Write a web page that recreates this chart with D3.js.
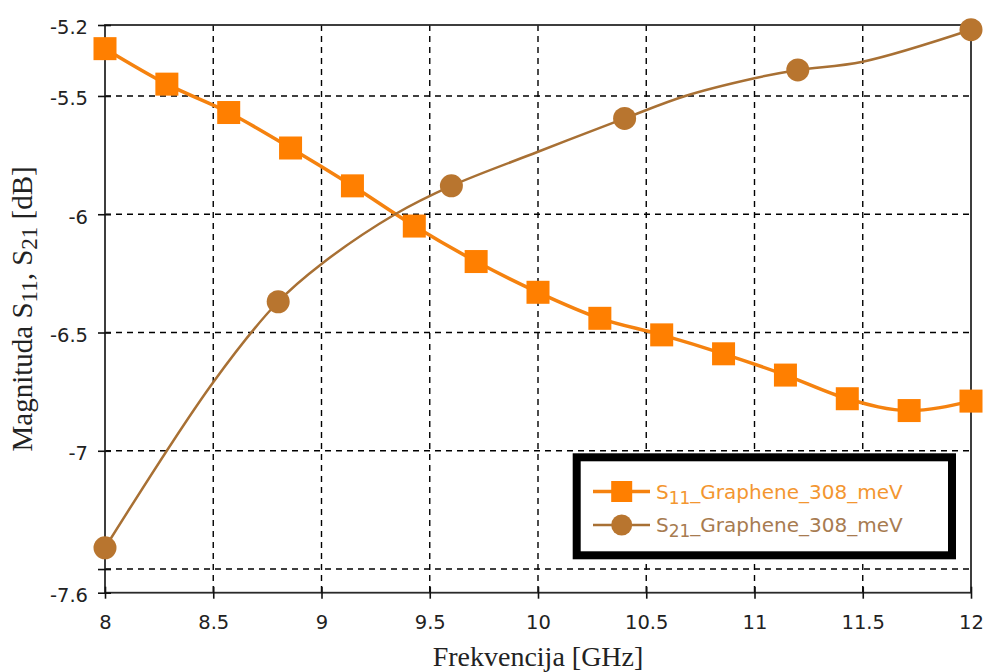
<!DOCTYPE html>
<html>
<head>
<meta charset="utf-8">
<script src="https://cdn.jsdelivr.net/npm/d3@7"></script>
<style>
  html, body { margin: 0; padding: 0; background: #fff; }
  svg { display: block; }
</style>
</head>
<body>
<svg id="chart" width="987" height="672"></svg>
<script>
// ---- data ----
const s11Freq = [8.0, 8.2857, 8.5714, 8.8571, 9.1429, 9.4286, 9.7143, 10.0, 10.2857, 10.5714, 10.8571, 11.1429, 11.4286, 11.7143, 12.0];
const s11Val  = [-5.30, -5.45, -5.57, -5.72, -5.88, -6.05, -6.20, -6.33, -6.44, -6.51, -6.59, -6.68, -6.78, -6.83, -6.79];

const s21Freq = [8.0, 8.8, 9.6, 10.4, 11.2, 12.0];
const s21Val  = [-7.41, -6.37, -5.88, -5.595, -5.39, -5.22];

// S21 simulated curve (denser trace)
const s21CurveFreq = [8.0, 8.5, 8.8, 9.0, 9.34, 9.6, 10.0, 10.4, 10.68, 11.0, 11.2, 11.5, 12.0];
const s21CurveVal  = [-7.41, -6.71, -6.37, -6.21, -6.0, -5.88, -5.736, -5.595, -5.5, -5.425, -5.39, -5.355, -5.22];

const xTicks = [8, 8.5, 9, 9.5, 10, 10.5, 11, 11.5, 12];
const xTickLabels = ["8", "8.5", "9", "9.5", "10", "10.5", "11", "11.5", "12"];
const yTicks = [-5.2, -5.5, -6, -6.5, -7, -7.5, -7.6];
const yTickLabels = ["-5.2", "-5.5", "-6", "-6.5", "-7", "", "-7.6"];
const xGrid = [8.5, 9, 9.5, 10, 10.5, 11, 11.5];
const yGrid = [-5.5, -6, -6.5, -7, -7.5];

const seriesNames = ["11", "21"]; // subscripts for S11 / S21 legend labels
const seriesSuffix = "_Graphene_308_meV";

// ---- layout ----
const svg = d3.select("#chart");
const pL = 105, pR = 971, pT = 25, pB = 592.7;

const x = d3.scaleLinear().domain([8, 12]).range([pL, pR]);
const y = d3.scaleLinear().domain([-7.6, -5.2]).range([pB, pT]);

const c11 = "#FF7F00", c11line = "#F5820F";
const c21 = "#B8752F", c21line = "#A87034";

// gridlines
const grid = svg.append("g").attr("stroke", "#000").attr("stroke-width", 1.4)
  .attr("stroke-dasharray", "6,5");
grid.selectAll("line.v").data(xGrid).join("line").attr("class", "v")
  .attr("x1", d => x(d)).attr("x2", d => x(d))
  .attr("y1", pT).attr("y2", pB);
grid.selectAll("line.h").data(yGrid).join("line").attr("class", "h")
  .attr("x1", pL).attr("x2", pR)
  .attr("y1", d => y(d)).attr("y2", d => y(d));

// frame
svg.append("rect").attr("x", pL).attr("y", pT)
  .attr("width", pR - pL).attr("height", pB - pT)
  .attr("fill", "none").attr("stroke", "#2a2a2a").attr("stroke-width", 1.8);

// axes
const xAxis = d3.axisBottom(x).tickValues(xTicks)
  .tickFormat((d, i) => xTickLabels[i]).tickSize(6).tickPadding(16);
const gx = svg.append("g").attr("transform", `translate(0,${pB})`).call(xAxis);
gx.select(".domain").remove();
gx.selectAll(".tick line").attr("y1", -6).attr("y2", 6).attr("stroke", "#111").attr("stroke-width", 1.6);
gx.selectAll(".tick text").attr("font-family", "DejaVu Sans, sans-serif")
  .attr("font-size", 19.5).attr("fill", "#222").attr("dy", "0.71em");

const yAxis = d3.axisLeft(y).tickValues(yTicks)
  .tickFormat((d, i) => yTickLabels[i]).tickSize(7).tickPadding(10);
const gy = svg.append("g").attr("transform", `translate(${pL},0)`).call(yAxis);
gy.select(".domain").remove();
gy.selectAll(".tick line").attr("x1", 6).attr("x2", -7).attr("stroke", "#111").attr("stroke-width", 1.6);
gy.selectAll(".tick text").attr("font-family", "DejaVu Sans, sans-serif")
  .attr("font-size", 19.5).attr("fill", "#222").attr("dy", "0.45em");

// axis titles
svg.append("text").attr("x", (pL + pR) / 2).attr("y", 666)
  .attr("text-anchor", "middle").attr("font-family", "Liberation Serif, Times New Roman, serif")
  .attr("font-size", 28).attr("fill", "#222").text("Frekvencija [GHz]");

const yt = svg.append("text").attr("transform", `translate(32,${(pT + pB) / 2}) rotate(-90)`)
  .attr("text-anchor", "middle").attr("font-family", "Liberation Serif, Times New Roman, serif")
  .attr("font-size", 29).attr("fill", "#222");
yt.append("tspan").text("Magnituda S");
yt.append("tspan").attr("font-size", 23).attr("dy", 5).text(seriesNames[0]);
yt.append("tspan").attr("dy", -5).text(", S");
yt.append("tspan").attr("font-size", 23).attr("dy", 5).text(seriesNames[1]);
yt.append("tspan").attr("dy", -5).text(" [dB]");

// lines
const line11 = d3.line().x((d, i) => x(s11Freq[i])).y(d => y(d)).curve(d3.curveMonotoneX);
svg.append("path").attr("d", line11(s11Val)).attr("fill", "none")
  .attr("stroke", c11line).attr("stroke-width", 3.5);

const line21 = d3.line().x((d, i) => x(s21CurveFreq[i])).y(d => y(d)).curve(d3.curveCatmullRom.alpha(0.5));
svg.append("path").attr("d", line21(s21CurveVal)).attr("fill", "none")
  .attr("stroke", c21line).attr("stroke-width", 2.5);

// markers
const sq = 23;
svg.append("g").selectAll("rect").data(s11Val).join("rect")
  .attr("x", (d, i) => x(s11Freq[i]) - sq / 2).attr("y", d => y(d) - sq / 2)
  .attr("width", sq).attr("height", sq).attr("fill", c11);

svg.append("g").selectAll("circle").data(s21Val).join("circle")
  .attr("cx", (d, i) => x(s21Freq[i])).attr("cy", d => y(d))
  .attr("r", 11.5).attr("fill", c21);

// legend
const lg = svg.append("g");
lg.append("rect").attr("x", 576.7).attr("y", 457.3).attr("width", 375.3).attr("height", 98)
  .attr("fill", "#fff").attr("stroke", "#000").attr("stroke-width", 8);

const legendRows = [
  { sub: seriesNames[0], color: c11line, mark: c11, type: "square", yy: 491.5, tc: "#F39630" },
  { sub: seriesNames[1], color: c21line, mark: c21, type: "circle", yy: 525, tc: "#A77B50" }
];
legendRows.forEach(r => {
  lg.append("line").attr("x1", 593).attr("x2", 650).attr("y1", r.yy).attr("y2", r.yy)
    .attr("stroke", r.color).attr("stroke-width", r.type === "square" ? 3.5 : 2.5);
  if (r.type === "square") {
    lg.append("rect").attr("x", 621.7 - 10.5).attr("y", r.yy - 10.5)
      .attr("width", 21).attr("height", 21).attr("fill", r.mark);
  } else {
    lg.append("circle").attr("cx", 621.7).attr("cy", r.yy).attr("r", 10.5).attr("fill", r.mark);
  }
  const t = lg.append("text").attr("x", 656).attr("y", r.yy + 7)
    .attr("font-family", "DejaVu Sans, sans-serif").attr("font-size", 20).attr("fill", r.tc);
  t.append("tspan").text("S");
  t.append("tspan").attr("font-size", 17).attr("dy", 5).text(r.sub);
  t.append("tspan").attr("dy", -5).text(seriesSuffix);
});
</script>
</body>
</html>
